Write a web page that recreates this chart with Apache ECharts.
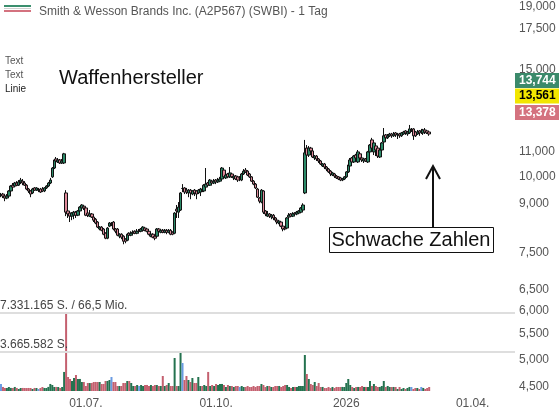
<!DOCTYPE html>
<html><head><meta charset="utf-8">
<script src="https://cdn.jsdelivr.net/npm/echarts@6/dist/echarts.min.js"></script>
<style>html,body{margin:0;padding:0;background:#fff}#c{width:559px;height:412px}</style>
</head><body><div id="c"></div>
<script>
const chartTitle = 'Smith & Wesson Brands Inc. (A2P567) (SWBI) - 1 Tag';
const firstDay = '2025-05-01';
const lastDay = '2026-04-30';
// [open, close, low, high]
const ohlc = [
[9.31,9.31,9.24,9.39],[9.35,9.28,9.21,9.39],[9.28,9.21,9.10,9.31],[9.21,9.28,9.17,9.35],[9.28,9.46,9.24,9.49],
[9.46,9.64,9.42,9.67],[9.67,9.60,9.57,9.75],[9.64,9.75,9.60,9.79],[9.75,9.67,9.64,9.82],[9.67,9.79,9.64,9.86],
[9.79,9.86,9.71,9.94],[9.82,9.75,9.67,9.90],[9.75,9.67,9.64,9.82],[9.67,9.53,9.49,9.71],[9.53,9.46,9.39,9.57],
[9.46,9.35,9.24,9.49],[9.39,9.53,9.35,9.57],[9.57,9.49,9.46,9.60],[9.49,9.57,9.46,9.60],[9.49,9.49,9.42,9.57],
[9.53,9.42,9.39,9.57],[9.53,9.46,9.42,9.60],[9.46,9.57,9.42,9.60],[9.57,9.64,9.53,9.67],[9.64,9.75,9.60,9.79],
[9.75,9.86,9.71,9.94],[9.98,10.32,9.94,10.36],[10.32,10.64,10.28,10.68],[10.68,10.60,10.52,10.76],[10.56,10.64,10.52,10.72],
[10.64,10.52,10.48,10.68],[10.52,10.60,10.48,10.68],[10.52,10.89,10.48,10.93],[9.39,8.73,8.60,9.49],[8.77,8.67,8.54,8.80],
[8.70,8.60,8.41,8.73],[8.60,8.70,8.47,8.73],[8.63,8.73,8.50,8.77],[8.73,8.63,8.54,8.77],[8.63,8.77,8.60,8.80],
[8.77,8.90,8.73,8.93],[8.87,8.97,8.80,9.00],[8.93,8.87,8.80,8.97],[8.87,8.63,8.60,8.90],[8.70,8.63,8.57,8.73],
[8.60,8.67,8.57,8.80],[8.67,8.57,8.54,8.70],[8.57,8.47,8.41,8.60],[8.50,8.38,8.34,8.54],[8.41,8.25,8.22,8.44],
[8.19,8.25,8.15,8.28],[8.25,8.15,8.12,8.28],[8.19,8.03,8.00,8.22],[8.06,7.91,7.88,8.09],[7.91,8.22,7.88,8.25],
[8.28,8.38,8.25,8.41],[8.34,8.34,8.28,8.41],[8.41,8.19,8.15,8.44],[8.19,8.12,8.06,8.22],[8.19,8.00,7.97,8.22],
[7.97,8.03,7.91,8.06],[8.03,7.94,7.88,8.06],[7.97,7.82,7.73,8.00],[7.88,7.82,7.76,7.91],[7.85,8.03,7.82,8.06],
[8.06,8.00,7.94,8.09],[8.00,8.06,7.97,8.12],[8.06,8.09,8.00,8.15],[8.12,8.06,8.03,8.15],[8.06,8.12,8.03,8.19],
[8.12,8.12,8.06,8.19],[8.12,8.19,8.09,8.22],[8.15,8.25,8.12,8.28],[8.22,8.15,8.12,8.25],[8.19,8.12,8.09,8.22],
[8.12,8.03,8.00,8.15],[7.97,8.03,7.94,8.06],[8.03,7.94,7.91,8.06],[7.97,7.91,7.85,8.00],[7.97,8.19,7.94,8.22],
[8.19,8.12,8.06,8.22],[8.09,8.15,8.06,8.19],[8.15,8.09,8.06,8.19],[8.09,8.15,8.06,8.19],[8.15,8.09,8.03,8.19],
[8.09,8.15,8.06,8.19],[8.15,8.03,8.00,8.19],[8.09,8.03,8.00,8.12],[8.06,8.70,8.03,8.73],[8.83,8.77,8.54,8.97],
[8.73,8.90,8.54,9.07],[8.80,9.39,8.77,9.42],[9.55,9.55,9.42,9.71],[9.57,9.42,9.35,9.60],[9.49,9.42,9.35,9.57],
[9.39,9.49,9.24,9.53],[9.49,9.39,9.17,9.53],[9.35,9.46,9.31,9.49],[9.49,9.39,9.28,9.53],[9.46,9.35,9.17,9.49],
[9.39,9.49,9.35,9.53],[9.42,9.53,9.28,9.57],[9.53,9.46,9.42,9.57],[9.46,9.67,9.42,9.71],[9.60,9.71,9.53,10.32],
[9.75,9.67,9.64,9.79],[9.67,9.86,9.64,9.90],[9.82,9.75,9.67,9.86],[9.75,9.82,9.71,9.90],[9.86,9.79,9.71,9.90],
[9.79,9.86,9.75,9.94],[9.82,9.90,9.79,9.98],[9.90,10.32,9.86,10.36],[10.24,9.98,9.94,10.28],[9.94,10.05,9.90,10.09],
[10.09,9.98,9.94,10.13],[9.98,10.13,9.94,10.36],[10.09,9.98,9.94,10.13],[9.94,10.01,9.86,10.05],[10.01,9.90,9.86,10.05],
[9.98,9.86,9.79,10.01],[9.94,9.94,9.82,10.01],[9.86,10.09,9.82,10.13],[10.09,10.20,10.05,10.28],[10.24,10.17,10.13,10.32],
[10.20,10.05,10.01,10.24],[10.09,9.98,9.94,10.13],[9.98,9.82,9.79,10.01],[9.82,9.71,9.67,9.86],[9.71,9.57,9.53,9.75],
[9.53,9.24,9.21,9.57],[9.21,9.10,9.03,9.24],[9.07,9.49,9.03,9.53],[9.46,8.73,8.67,9.49],[8.77,8.67,8.60,8.80],
[8.60,8.67,8.57,8.77],[8.67,8.60,8.54,8.70],[8.57,8.63,8.50,8.67],[8.63,8.54,8.47,8.67],[8.54,8.47,8.44,8.57],
[8.47,8.41,8.34,8.50],[8.38,8.44,8.34,8.47],[8.41,8.28,8.25,8.44],[8.28,8.19,8.12,8.31],[8.22,8.19,8.15,8.28],
[8.22,8.54,8.19,8.57],[8.57,8.63,8.54,8.70],[8.67,8.60,8.57,8.70],[8.60,8.67,8.57,8.73],[8.70,8.67,8.60,8.73],
[8.67,8.73,8.63,8.77],[8.70,8.77,8.67,8.80],[8.73,8.87,8.70,8.90],[8.80,8.97,8.77,9.03],[9.39,10.93,9.35,11.48],
[11.13,10.84,10.72,11.26],[10.84,11.13,10.76,11.22],[11.13,11.01,10.93,11.18],[11.01,10.76,10.72,11.05],[10.72,10.80,10.64,10.84],
[10.80,10.68,10.60,10.84],[10.68,10.60,10.52,10.72],[10.60,10.48,10.44,10.64],[10.40,10.48,10.36,10.52],[10.48,10.36,10.28,10.52],
[10.36,10.28,10.20,10.40],[10.28,10.17,10.13,10.32],[10.20,10.09,10.01,10.24],[10.05,10.13,10.01,10.17],[10.09,10.01,9.94,10.13],
[10.01,9.94,9.90,10.05],[9.98,9.90,9.86,10.01],[9.94,9.86,9.82,9.98],[9.86,9.90,9.82,9.94],[9.90,9.98,9.86,10.01],
[9.98,10.17,9.94,10.20],[10.17,10.44,10.13,10.48],[10.40,10.64,10.36,10.72],[10.72,10.56,10.48,10.76],[10.56,10.80,10.52,10.84],
[10.84,10.72,10.64,10.89],[10.56,10.97,10.52,11.05],[10.89,10.72,10.64,10.93],[10.72,10.64,10.56,10.76],[10.60,10.68,10.52,10.72],
[10.68,10.60,10.56,10.72],[10.56,10.97,10.52,11.01],[10.97,11.26,10.93,11.30],[11.48,11.13,11.05,11.57],[10.97,11.35,10.84,11.39],
[11.22,11.05,10.80,11.26],[11.13,10.80,10.72,11.18],[10.76,11.05,10.72,11.09],[11.05,11.35,11.01,11.39],[11.39,11.66,11.35,12.01],
[11.70,11.57,11.48,11.74],[11.57,11.66,11.52,11.74],[11.66,11.74,11.61,11.79],[11.74,11.66,11.57,11.79],[11.66,11.74,11.61,11.83],
[11.79,11.70,11.61,11.83],[11.70,11.74,11.52,11.79],[11.74,11.66,11.57,11.79],[11.66,11.79,11.61,11.83],[11.74,11.83,11.70,11.88],
[11.88,11.79,11.70,11.92],[11.74,11.83,11.66,11.88],[11.79,11.97,11.74,12.15],[11.92,11.92,11.83,12.01],[11.97,11.66,11.48,12.01],
[11.83,11.66,11.61,11.88],[11.74,11.83,11.70,11.92],[11.88,11.79,11.66,11.92],[11.88,11.88,11.74,11.97],[11.79,11.92,11.70,11.97],
[11.92,11.83,11.74,12.01],[11.88,11.79,11.74,11.92],[11.83,11.74,11.66,11.88]
];
const volume = [
660000,380000,285000,280000,375000,290000,282000,380000,286000,190000,
284000,288000,281000,279000,286000,283000,192000,287000,280000,188000,
283000,378000,285000,281000,384000,662000,566000,379000,382000,376000,
284000,377000,1790000,7331165,1315000,1130000,940000,1220000,1505000,1128000,
1132000,846000,842000,470000,752000,748000,755000,846000,850000,843000,
847000,658000,662000,940000,944000,1035000,1315000,848000,844000,472000,
468000,471000,750000,754000,938000,942000,752000,470000,473000,565000,
471000,566000,469000,562000,567000,472000,563000,468000,566000,561000,
470000,473000,1410000,468000,565000,752000,471000,469000,3100000,472000,
470000,3665000,2630000,1035000,1410000,1032000,846000,1220000,752000,755000,
1315000,471000,468000,564000,472000,1790000,470000,566000,469000,660000,
565000,658000,662000,564000,378000,566000,471000,468000,377000,472000,
469000,380000,471000,376000,379000,470000,377000,381000,468000,375000,
471000,469000,660000,563000,378000,472000,470000,376000,379000,468000,
471000,473000,377000,470000,566000,562000,379000,284000,377000,381000,
378000,470000,473000,468000,3385000,1600000,1130000,658000,565000,846000,
470000,752000,378000,381000,284000,281000,377000,286000,379000,283000,
380000,376000,379000,382000,377000,752000,1128000,566000,378000,284000,
377000,380000,376000,470000,379000,381000,377000,940000,470000,660000,
471000,378000,381000,468000,940000,377000,472000,379000,376000,380000,
378000,190000,376000,192000,283000,188000,285000,380000,377000,191000,
284000,281000,189000,379000,286000,190000,283000,378000
];
const priceTicks = [4.5, 5, 5.5, 6, 6.5, 7.5, 9, 10, 11, 15, 17.5, 19];
const dateLabels = {'2025-07-01': '01.07.', '2025-10-01': '01.10.', '2026-01-01': '2026', '2026-04-01': '01.04.'};
const priceTags = [
  {value: 13.744, bg: '#3b8a6b', fg: '#ffffff', shift: -12},
  {value: 13.561, bg: '#f2e600', fg: '#000000', shift: 0},
  {value: 13.378, bg: '#d4727f', fg: '#ffffff', shift: 13}
];
const volumeLines = [
  {value: 7331165, text: '7.331.165 S. / 66,5 Mio.'},
  {value: 3665582, text: '3.665.582 S.'}
];

// trading-day categories (weekdays)
const dates = [];
{
  const d = new Date(firstDay + 'T00:00:00Z');
  const end = new Date(lastDay + 'T00:00:00Z');
  while (d <= end) {
    const wd = d.getUTCDay();
    if (wd !== 0 && wd !== 6) dates.push(d.toISOString().slice(0, 10));
    d.setUTCDate(d.getUTCDate() + 1);
  }
}

const UP = '#2b8a68', DOWN = '#e0899a';
const VUP = '#24724f', VDOWN = '#c4606f', VFLAT = '#6a9be2';
const FONT = '"Liberation Sans", Arial, sans-serif';
const fmtPrice = v => Number(v).toFixed(3).replace('.', ',');

const volData = volume.map((v, i) => {
  const [o, c] = ohlc[i];
  return {value: v, itemStyle: {color: c > o ? VUP : (c < o ? VDOWN : VFLAT)}};
});

const chart = echarts.init(document.getElementById('c'), null, {renderer: 'canvas'});
chart.setOption({
  animation: false,
  backgroundColor: '#ffffff',
  textStyle: {fontFamily: FONT},
  title: {
    text: chartTitle, left: 34, top: 1,
    textStyle: {fontSize: 12, fontWeight: 'normal', color: '#555', fontFamily: FONT}
  },
  grid: [
    {left: 0, right: 44, top: 7, height: 380},
    {left: 0, right: 44, top: 313, height: 78}
  ],
  xAxis: [
    {type: 'category', gridIndex: 0, data: dates, show: false, boundaryGap: true},
    {type: 'category', gridIndex: 1, data: dates, boundaryGap: true,
     axisLine: {show: false}, axisTick: {show: false}, splitLine: {show: false},
     axisLabel: {
       interval: (idx, val) => dateLabels.hasOwnProperty(val),
       formatter: val => dateLabels[val] || '',
       color: '#555', fontSize: 12, margin: 7, fontFamily: FONT
     }}
  ],
  yAxis: [
    {type: 'log', gridIndex: 0, position: 'right', min: 4.5, max: 19,
     axisLine: {show: false}, axisTick: {show: false}, splitLine: {show: false},
     axisLabel: {customValues: priceTicks, formatter: v => fmtPrice(v), color: '#555', fontSize: 12, margin: 4, fontFamily: FONT}},
    {type: 'value', gridIndex: 1, min: 0, max: 7331165, show: false, splitLine: {show: false}}
  ],
  series: [
    {
      type: 'candlestick', xAxisIndex: 0, yAxisIndex: 0, data: ohlc,
      barWidth: 3,
      itemStyle: {color: UP, color0: DOWN, borderColor: '#111', borderColor0: '#111', borderColorDoji: '#111', borderWidth: 1},
      markLine: {
        silent: true, symbol: 'none', z: 10,
        lineStyle: {color: 'rgba(0,0,0,0)', width: 1},
        data: priceTags.map(t => ({
          yAxis: t.value,
          label: {
            show: true, position: 'end', distance: 0,
            formatter: fmtPrice(t.value),
            backgroundColor: t.bg, color: t.fg, fontWeight: 'bold', fontSize: 12,
            padding: [2, 4, 1, 4], width: 36, offset: [0, t.shift], fontFamily: FONT
          }
        }))
      }
    },
    {
      type: 'bar', xAxisIndex: 1, yAxisIndex: 1, data: volData,
      barWidth: 2,
      markLine: {
        silent: true, symbol: 'none',
        lineStyle: {color: '#dedede', width: 2, type: 'solid'},
        data: volumeLines.map(l => ({
          yAxis: l.value,
          label: {show: true, position: 'insideStartTop', formatter: l.text, color: '#444', fontSize: 12, distance: [0, 1], fontFamily: FONT}
        }))
      }
    }
  ],
  graphic: [
    {type: 'line', shape: {x1: 4, y1: 6, x2: 31, y2: 6}, style: {stroke: '#3b8f6e', lineWidth: 2}},
    {type: 'line', shape: {x1: 4, y1: 8.5, x2: 31, y2: 8.5}, style: {stroke: '#d0d0d0', lineWidth: 1}},
    {type: 'line', shape: {x1: 4, y1: 11, x2: 31, y2: 11}, style: {stroke: '#d4727f', lineWidth: 2}},
    {type: 'text', left: 5, top: 56, style: {text: 'Text', fontSize: 10, fill: '#555', font: '10px ' + FONT}},
    {type: 'text', left: 5, top: 70, style: {text: 'Text', fontSize: 10, fill: '#555', font: '10px ' + FONT}},
    {type: 'text', left: 5, top: 84, style: {text: 'Linie', fontSize: 10, fill: '#222', font: '10px ' + FONT}},
    {type: 'text', left: 59, top: 68, style: {text: 'Waffenhersteller', fill: '#111', font: '20px ' + FONT}},
    {type: 'polyline', shape: {points: [[426, 179], [433, 166], [440, 179]]}, style: {stroke: '#111', lineWidth: 2, fill: null}},
    {type: 'line', shape: {x1: 433, y1: 167, x2: 433, y2: 227}, style: {stroke: '#111', lineWidth: 2}},
    {type: 'rect', shape: {x: 329.5, y: 227.5, width: 164, height: 25}, style: {fill: '#fff', stroke: '#111', lineWidth: 1}},
    {type: 'text', x: 411, y: 240, style: {text: 'Schwache Zahlen', fill: '#111', font: '20px ' + FONT, textAlign: 'center', textVerticalAlign: 'middle'}}
  ]
});
</script>
</body></html>
